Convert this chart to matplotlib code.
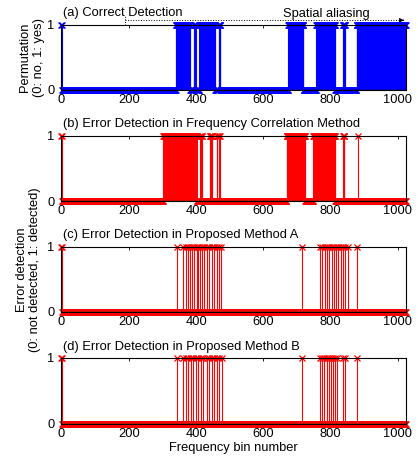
##############
### IMPORT ###
##############

import numpy as np
import matplotlib
matplotlib.use('Agg')
import matplotlib.pyplot as plt

plt.rcParams['font.family'] = ['Liberation Sans', 'DejaVu Sans']
plt.rcParams['font.size'] = 9.3


############
### DATA ###
############

n_bins = 1024
x_ticks = [0, 200, 400, 600, 800, 1000]

titles = ['(a) Correct Detection',
          '(b) Error Detection in Frequency Correlation Method',
          '(c) Error Detection in Proposed Method A',
          '(d) Error Detection in Proposed Method B']

# (a) bins where the permutation is 1, as (first, last) ranges
perm_ranges = [(0, 1), (340, 382), (394, 399), (410, 456), (467, 472),
               (674, 719), (757, 813), (837, 843), (877, 1023)]

# (b) bins flagged by the frequency correlation method, as ranges
corr_ranges = [(0, 1), (303, 402), (413, 414), (418, 419), (441, 444),
               (446, 447), (461, 462), (468, 470), (669, 724), (749, 813),
               (838, 841), (882, 882)]

# (c) bins flagged by proposed method A
method_a_bins = [0, 1, 344, 362, 369, 377, 382, 389, 395, 402, 407, 412, 417,
                 425, 432, 438, 446, 454, 461, 468, 474, 716, 768, 775, 783,
                 790, 795, 803, 810, 816, 823, 830, 836, 843, 851, 879]

# (d) bins flagged by proposed method B
method_b_bins = [0, 1, 344, 362, 369, 377, 385, 392, 399, 407, 414, 421, 432,
                 438, 446, 454, 461, 468, 476, 716, 768, 775, 781, 788, 795,
                 801, 808, 814, 820, 838, 842, 879]


#################
### FUNCTIONS ###
#################

def from_ranges(ranges):
    """0/1 vector with ones on the given (first, last) bin ranges."""
    v = np.zeros(n_bins)
    for a, b in ranges:
        v[a:b + 1] = 1
    return v


def from_bins(bins):
    v = np.zeros(n_bins)
    v[bins] = 1
    return v


def stem_panel(ax, values, color, base_color, title):
    x = np.arange(n_bins)
    markers, stems, base = ax.stem(x, values, linefmt='-', markerfmt='x',
                                   basefmt='-')
    stems.set_color(color)
    stems.set_linewidth(0.8)
    markers.set_color(color)
    markers.set_markersize(5)
    markers.set_markeredgewidth(0.9)
    markers.set_clip_on(False)
    base.set_color(base_color)
    base.set_linewidth(1.0)
    base.set_xdata([0, n_bins])

    ax.set_xlim(0, n_bins)
    ax.set_ylim(0, 1)
    ax.set_xticks(x_ticks)
    ax.set_yticks([0, 1])
    ax.tick_params(direction='in', top=True, right=True, length=2.5,
                   width=0.6, pad=3)
    ax.tick_params(axis='y', pad=5)
    for s in ax.spines.values():
        s.set_linewidth(0.8)
    ax.text(0.003, 1.08, title, transform=ax.transAxes, ha='left',
            va='bottom')


##############
### GRAPHS ###
##############

fig = plt.figure(figsize=(4.18, 4.59), dpi=100)

H = 459.0
left, width = 61.5 / 418, 344.5 / 418
bottoms = [90, 201, 312, 423.5]
ax_h = 65.5 / H

data = [from_ranges(perm_ranges), from_ranges(corr_ranges),
        from_bins(method_a_bins), from_bins(method_b_bins)]
colors = ['#0000ff', '#ff0000', '#ff0000', '#ff0000']
base_colors = ['#000000', '#006000', '#006000', '#006000']

axes = []
for i in range(4):
    ax = fig.add_axes([left, 1 - bottoms[i] / H, width, ax_h])
    stem_panel(ax, data[i], colors[i], base_colors[i], titles[i])
    axes.append(ax)

# Spatial aliasing marker on the first panel
ax = axes[0]
ax.plot([190, 190], [1.0, 1.14], ':', color='k', lw=0.7, clip_on=False)
ax.plot([190, 1015], [1.065, 1.065], ':', color='k', lw=0.7, clip_on=False)
ax.annotate('', xy=(1026, 1.065), xytext=(1008, 1.065),
            arrowprops=dict(arrowstyle='-|>', color='k', lw=0.7,
                            mutation_scale=6), annotation_clip=False)
ax.text(786, 1.16, 'Spatial aliasing', ha='center', va='center')

ax.set_ylabel('Permutation\n(0: no, 1: yes)', labelpad=2, linespacing=1.2)

fig.text(0.068, 1 - 270 / H, 'Error detection\n(0: not detected, 1: detected)',
         rotation=90, ha='center', va='center', multialignment='center',
         linespacing=1.2)

axes[3].set_xlabel('Frequency bin number', labelpad=1.5)

plt.savefig('out.png', dpi=100)
